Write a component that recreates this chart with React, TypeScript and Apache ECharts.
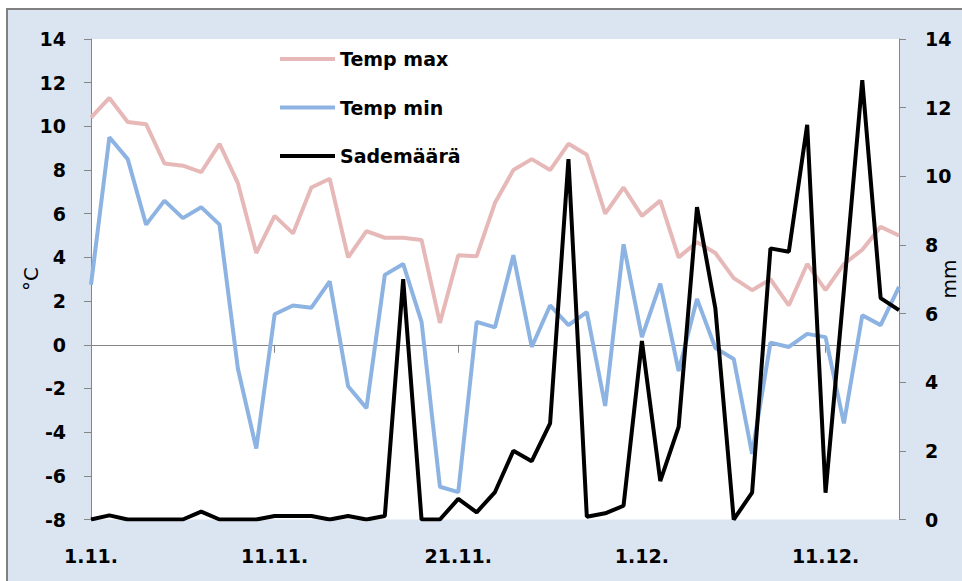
import React, { useEffect, useRef } from "react";
import * as echarts from "echarts";

const categories = [
  "1.11.", "2.11.", "3.11.", "4.11.", "5.11.", "6.11.", "7.11.", "8.11.", "9.11.", "10.11.",
  "11.11.", "12.11.", "13.11.", "14.11.", "15.11.", "16.11.", "17.11.", "18.11.", "19.11.", "20.11.",
  "21.11.", "22.11.", "23.11.", "24.11.", "25.11.", "26.11.", "27.11.", "28.11.", "29.11.", "30.11.",
  "1.12.", "2.12.", "3.12.", "4.12.", "5.12.", "6.12.", "7.12.", "8.12.", "9.12.", "10.12.",
  "11.12.", "12.12.", "13.12.", "14.12.", "15.12.",
];

const tempMax = [
  10.4, 11.3, 10.2, 10.1, 8.3, 8.2, 7.9, 9.2, 7.4, 4.2,
  5.9, 5.1, 7.2, 7.6, 4.0, 5.2, 4.9, 4.9, 4.8, 1.0,
  4.1, 4.05, 6.5, 8.0, 8.5, 8.0, 9.2, 8.7, 6.0, 7.2,
  5.9, 6.6, 4.0, 4.7, 4.2, 3.05, 2.5, 3.0, 1.8, 3.7,
  2.5, 3.7, 4.35, 5.4, 5.0,
];

const tempMin = [
  2.75, 9.5, 8.5, 5.5, 6.6, 5.8, 6.3, 5.5, -1.1, -4.75,
  1.4, 1.8, 1.7, 2.9, -1.9, -2.9, 3.2, 3.7, 1.05, -6.5,
  -6.75, 1.05, 0.8, 4.1, -0.1, 1.8, 0.9, 1.5, -2.8, 4.6,
  0.35, 2.8, -1.2, 2.1, -0.15, -0.65, -5.0, 0.1, -0.1, 0.5,
  0.35, -3.6, 1.35, 0.9, 2.65,
];

const rain = [
  0, 0.12, 0, 0, 0, 0, 0.23, 0, 0, 0,
  0.1, 0.1, 0.1, 0, 0.1, 0, 0.1, 7.0, 0, 0,
  0.6, 0.21, 0.8, 2.0, 1.7, 2.8, 10.5, 0.08, 0.18, 0.4,
  5.2, 1.12, 2.7, 9.1, 6.15, 0, 0.78, 7.9, 7.8, 11.5,
  0.78, 6.7, 12.8, 6.45, 6.1,
];

const seriesNames = ["Temp max", "Temp min", "Sademäärä"];
const axisNames = ["°C", "mm"];

const FONT = "DejaVu Sans";
const AXIS_GRAY = "#868686";

export default function App() {
  const ref = useRef<HTMLDivElement>(null);

  useEffect(() => {
    if (!ref.current) return;
    const chart = echarts.init(ref.current, undefined, { renderer: "svg" });
    const labelStyle = {
      fontFamily: FONT,
      fontWeight: "bold" as const,
      fontSize: 19,
      color: "#000",
    };
    chart.setOption({
      animation: false,
      backgroundColor: "#ffffff",
      graphic: [
        {
          type: "rect",
          z: -100,
          silent: true,
          shape: { x: 7, y: 9, width: 980, height: 600 },
          style: { fill: "#dbe5f1", stroke: "#808080", lineWidth: 2 },
        },
        {
          type: "text",
          x: 31,
          y: 279,
          rotation: Math.PI / 2,
          silent: true,
          style: {
            text: axisNames[0],
            fontFamily: FONT,
            fontSize: 20,
            fill: "#000",
            align: "center",
            verticalAlign: "middle",
          },
        },
        {
          type: "text",
          x: 949,
          y: 279,
          rotation: Math.PI / 2,
          silent: true,
          style: {
            text: axisNames[1],
            fontFamily: FONT,
            fontSize: 20,
            fill: "#000",
            align: "center",
            verticalAlign: "middle",
          },
        },
      ],
      grid: {
        left: 91,
        right: 63,
        top: 39,
        bottom: 61.5,
        show: true,
        backgroundColor: "#ffffff",
        borderWidth: 0,
        containLabel: false,
        outerBoundsMode: "none",
      },
      legend: {
        orient: "vertical",
        left: 280,
        top: 49,
        padding: 0,
        icon: "rect",
        itemWidth: 55,
        itemHeight: 4,
        itemGap: 28.5,
        data: seriesNames,
        textStyle: { ...labelStyle, lineHeight: 20 },
      },
      xAxis: [
        {
          type: "category",
          data: categories,
          boundaryGap: false,
          axisLine: { show: false, onZero: false },
          axisTick: { show: false },
          axisLabel: { ...labelStyle, interval: 9, margin: 27 },
          splitLine: { show: false },
        },
        {
          type: "category",
          data: categories,
          boundaryGap: false,
          position: "bottom",
          axisLine: {
            show: true,
            onZero: true,
            onZeroAxisIndex: 0,
            lineStyle: { color: AXIS_GRAY, width: 1 },
          },
          axisTick: {
            show: true,
            interval: 9,
            length: 8,
            lineStyle: { color: AXIS_GRAY, width: 1 },
          },
          axisLabel: { show: false },
          splitLine: { show: false },
        },
      ],
      yAxis: [
        {
          type: "value",
          min: -8,
          max: 14,
          interval: 2,
          position: "left",
          axisLine: { show: true, onZero: false, lineStyle: { color: AXIS_GRAY, width: 1 } },
          axisTick: { show: true, length: 7, lineStyle: { color: AXIS_GRAY } },
          axisLabel: { ...labelStyle, margin: 25 },
          splitLine: { show: false },
        },
        {
          type: "value",
          min: 0,
          max: 14,
          interval: 2,
          position: "right",
          axisLine: { show: true, onZero: false, lineStyle: { color: AXIS_GRAY, width: 1 } },
          axisTick: { show: true, length: 7, lineStyle: { color: AXIS_GRAY } },
          axisLabel: { ...labelStyle, margin: 26 },
          splitLine: { show: false },
        },
      ],
      series: [
        {
          name: seriesNames[0],
          type: "line",
          data: tempMax,
          yAxisIndex: 0,
          symbol: "none",
          lineStyle: { color: "#e6b9b8", width: 4 },
          itemStyle: { color: "#e6b9b8" },
        },
        {
          name: seriesNames[1],
          type: "line",
          data: tempMin,
          yAxisIndex: 0,
          symbol: "none",
          lineStyle: { color: "#8db3e2", width: 4 },
          itemStyle: { color: "#8db3e2" },
        },
        {
          name: seriesNames[2],
          type: "line",
          data: rain,
          yAxisIndex: 1,
          symbol: "none",
          lineStyle: { color: "#000000", width: 4 },
          itemStyle: { color: "#000000" },
        },
      ],
    });
    return () => chart.dispose();
  }, []);

  return (
    <div
      ref={ref}
      style={{ position: "fixed", left: 0, top: 0, width: 962, height: 581 }}
    />
  );
}
